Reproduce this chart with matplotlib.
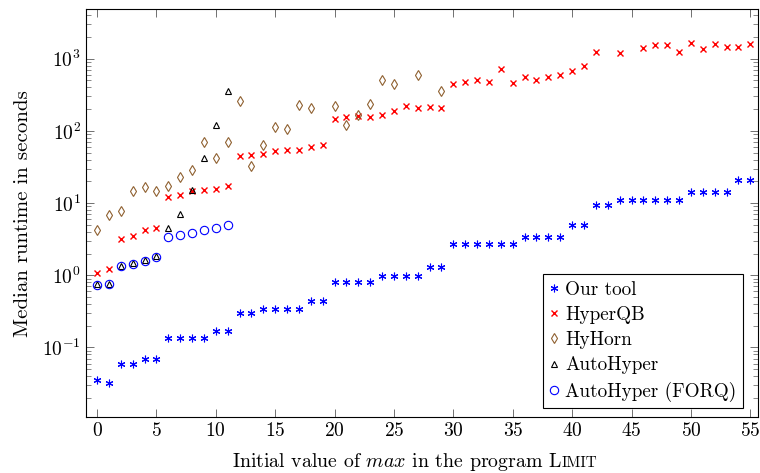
import numpy as np
import matplotlib
matplotlib.use("Agg")
import matplotlib.pyplot as plt
from matplotlib.ticker import LogLocator, NullFormatter
from matplotlib.offsetbox import TextArea, HPacker, AnchoredOffsetbox

plt.rcParams['font.family'] = 'serif'
plt.rcParams['font.serif'] = ['cmr10', 'DejaVu Serif']
plt.rcParams['mathtext.fontset'] = 'cm'
plt.rcParams['axes.formatter.use_mathtext'] = True

nan = np.nan
max_values = list(range(56))

our_tool = [0.0355, 0.0325, 0.0585, 0.0585, 0.070, 0.070, 0.134, 0.134, 0.134, 0.134,
            0.169, 0.169, 0.298, 0.298, 0.341, 0.341, 0.341, 0.341, 0.445, 0.445,
            0.815, 0.815, 0.815, 0.815, 0.987, 0.987, 0.987, 0.987, 1.315, 1.315,
            2.69, 2.69, 2.69, 2.69, 2.69, 2.69, 3.42, 3.42, 3.42, 3.42,
            4.93, 4.93, 9.5, 9.5, 11.1, 11.1, 11.1, 11.1, 11.1, 11.1,
            14.4, 14.4, 14.4, 14.4, 21.1, 21.1]

hyperqb = [1.09, 1.22, 3.18, 3.53, 4.2, 4.52, 12.3, 12.8, 14.6, 15.0,
           15.7, 17.4, 44.9, 45.9, 47.4, 53.2, 54.4, 53.9, 60.4, 63.2,
           145, 157, 161, 157, 168, 190, 219, 207, 216, 206,
           451, 476, 507, 476, 720, 465, 563, 515, 561, 589,
           682, 800, 1238, nan, 1188, nan, 1393, 1534, 1534, 1227,
           1650, 1376, 1582, 1466, 1452, 1599]

hyhorn = [4.24, 6.9, 7.78, 14.7, 16.6, 14.7, 17.3, 23, 29, 71,
          41.5, 71, 260, 33, 62.8, 115, 107, 228, 206, nan,
          223, 122, 164, 237, 502, 446, nan, 600, nan, 353]

autohyper = [0.75, 0.76, 1.35, 1.47, 1.63, 1.85, 4.52, 7.06, 15.0, 41.7, 120, 360]

autohyper_forq = [0.734, 0.75, 1.33, 1.43, 1.58, 1.79, 3.42, 3.62, 3.85, 4.28, 4.56, 4.93]

fig = plt.figure(figsize=(7.6, 4.73), dpi=100)
ax = fig.add_axes([0.1128, 0.1184, 0.8846, 0.8619])

ax.plot(max_values, our_tool, ls='none', marker=(6, 2, 0), ms=5.5, mew=0.8,
        color='blue', label='Our tool')
ax.plot(max_values, hyperqb, ls='none', marker='x', ms=4, mew=1.0,
        color='red', label='HyperQB')
ax.plot(max_values[:len(hyhorn)], hyhorn, ls='none', marker='d', ms=5.5, mew=0.8,
        mfc='none', color='#8f6030', label='HyHorn')
ax.plot(max_values[:len(autohyper)], autohyper, ls='none', marker='^', ms=5, mew=0.8,
        mfc='none', color='black', label='AutoHyper')
ax.plot(max_values[:len(autohyper_forq)], autohyper_forq, ls='none', marker='o', ms=6, mew=0.8,
        mfc='none', color='blue', label='AutoHyper (FORQ)')

ax.set_yscale('log')
ax.set_xlim(-0.95, 55.65)
ax.set_ylim(0.0109, 4830)
ax.set_xticks(range(0, 56, 5))
ax.yaxis.set_major_locator(LogLocator(base=10, numticks=20))
ax.yaxis.set_minor_locator(LogLocator(base=10, subs=np.arange(2, 10), numticks=20))
ax.yaxis.set_minor_formatter(NullFormatter())

ax.tick_params(which='both', direction='in', top=True, right=True, color='0.35')
ax.tick_params(which='major', length=6, width=0.6, labelsize=14)
ax.tick_params(which='minor', length=3.5, width=0.5)
ax.tick_params(axis='x', which='minor', bottom=False, top=False)
for s in ax.spines.values():
    s.set_linewidth(0.8)

ax.set_ylabel('Median runtime in seconds', fontsize=15, labelpad=7)

# x label with small caps for the program name
parts = [TextArea('Initial value of $max$ in the program L', textprops=dict(size=14.3)),
         TextArea('IMIT', textprops=dict(size=11))]
box = HPacker(children=parts, align='baseline', pad=0, sep=0)
lab = AnchoredOffsetbox(loc='center', child=box, bbox_to_anchor=(0.546, 0.024),
                        bbox_transform=fig.transFigure, frameon=False, pad=0, borderpad=0)
ax.add_artist(lab)

leg = ax.legend(loc='upper left', bbox_to_anchor=(0.680, 0.351), borderaxespad=0,
                fontsize=13.8, fancybox=False, edgecolor='black', framealpha=1,
                handlelength=0.5, handletextpad=0.3, labelspacing=0.38,
                borderpad=0.35, numpoints=1)
leg.get_frame().set_linewidth(0.8)

fig.savefig('out.png', dpi=100)
